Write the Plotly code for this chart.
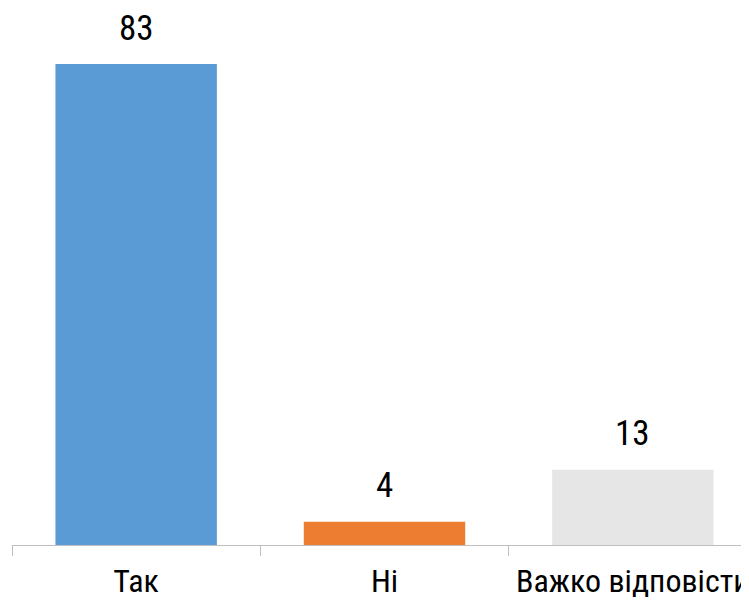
import plotly.graph_objects as go

categories = ["Так", "Ні", "Важко відповісти"]
values = [83, 4, 13]
colors = ["#5B9BD5", "#ED7D31", "#E7E6E6"]

FONT = "Roboto Condensed, Liberation Sans Narrow, Roboto, sans-serif"

fig = go.Figure(go.Bar(
    x=categories, y=values,
    marker=dict(color=colors, line=dict(width=0)),
    width=0.65,
    hoverinfo="x+y",
))

for c, v in zip(categories, values):
    fig.add_annotation(
        x=c, y=v, text=str(v), showarrow=False,
        yanchor="middle", yshift=36,
        font=dict(size=35, family=FONT, color="#000000"),
    )

fig.update_layout(
    width=749, height=603,
    margin=dict(l=4, r=0, t=0, b=66),
    paper_bgcolor="white", plot_bgcolor="white",
    showlegend=False,
    font=dict(family=FONT, size=32, color="#000000"),
    xaxis=dict(
        range=[-0.5, 2.5],
        automargin=False,
        tickangle=0,
        ticklabelstandoff=8,
        showline=True, linecolor="#BFBFBF", linewidth=1,
        ticks="outside", tickson="boundaries", ticklen=10, tickcolor="#BFBFBF",
        tickfont=dict(size=32, family=FONT, color="#000000"),
        showgrid=False,
    ),
    yaxis=dict(range=[0, 92.67], visible=False, showgrid=False, automargin=False),
)

fig.write_html("out.html")
